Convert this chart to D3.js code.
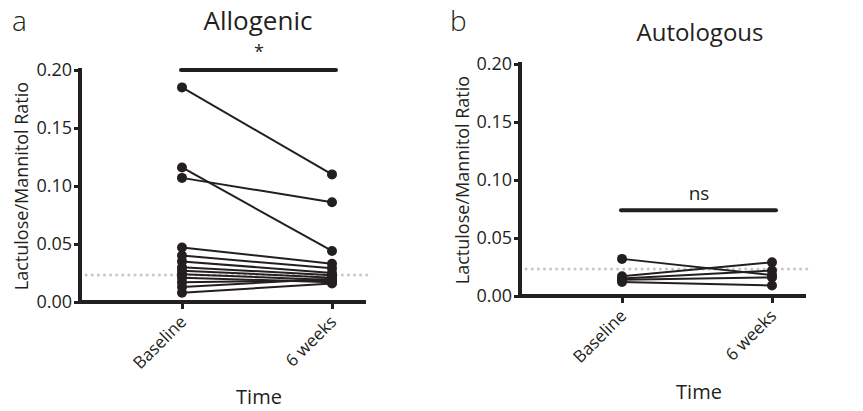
<!DOCTYPE html>
<html>
  <head>
    <meta charset="utf-8">
    <style>
      body { margin: 0; background: #fff; }
      text { font-family: "Open Sans", sans-serif; fill: #231f20; }
    </style>
    <script src="https://cdnjs.cloudflare.com/ajax/libs/d3/7.8.5/d3.min.js"></script>
  </head>
  <body>
    <svg width="863" height="411" id="SVG"></svg>
    <script>
      var timepoints = ["Baseline", "6 weeks"];
      var yTicks = [0.00, 0.05, 0.10, 0.15, 0.20];
      var reference = 0.0233;

      // allogenic, one pair per subject: [baseline, 6 weeks]
      var alloBaseline = [0.185, 0.116, 0.107, 0.047, 0.040, 0.035, 0.030, 0.027, 0.024, 0.021, 0.017, 0.013, 0.008];
      var allo6weeks   = [0.110, 0.044, 0.086, 0.033, 0.029, 0.025, 0.023, 0.021, 0.019, 0.017, 0.019, 0.020, 0.016];

      var autoBaseline = [0.032, 0.017, 0.015, 0.014, 0.012];
      var auto6weeks   = [0.018, 0.029, 0.022, 0.016, 0.009];

      var ink = "#231f20";
      var svg = d3.select("#SVG");

      function panel(opt) {
        var g = svg.append("g");
        var x = d3.scalePoint().domain(timepoints).range([opt.x0, opt.x1]);
        var y = d3.scaleLinear().domain([0, 0.2]).range([opt.yBottom, opt.yTop]);

        // reference dotted line
        g.append("line")
         .attr("x1", opt.left).attr("x2", opt.right + 4)
         .attr("y1", y(reference)).attr("y2", y(reference))
         .attr("stroke", "#c8c8c8").attr("stroke-width", 3)
         .attr("stroke-dasharray", "0.1,6").attr("stroke-linecap", "round");

        // y axis
        var yAxis = g.append("g")
          .attr("transform", "translate(" + opt.left + ",0)")
          .call(d3.axisLeft(y).tickValues(yTicks).tickFormat(d3.format(".2f")).tickSize(6).tickPadding(2));
        yAxis.select(".domain").remove();
        yAxis.selectAll(".tick line").attr("stroke", ink).attr("stroke-width", 3);
        yAxis.selectAll(".tick text").style("font-size", "18px").style("font-family", "'Open Sans', sans-serif").attr("fill", ink);
        g.append("line")
         .attr("x1", opt.left).attr("x2", opt.left)
         .attr("y1", y(0.2) - 2).attr("y2", opt.yBottom + 2)
         .attr("stroke", ink).attr("stroke-width", 4);

        // x axis
        var xAxis = g.append("g")
          .attr("transform", "translate(0," + opt.yBottom + ")")
          .call(d3.axisBottom(x).tickSize(7).tickPadding(4));
        xAxis.select(".domain").remove();
        xAxis.selectAll(".tick line").attr("stroke", ink).attr("stroke-width", 3);
        xAxis.selectAll(".tick text")
             .style("font-size", "17px").style("font-family", "'Open Sans', sans-serif").attr("fill", ink)
             .attr("text-anchor", "end")
             .attr("transform", "translate(-7,9) rotate(-45)")
             .attr("dy", "0.35em");
        g.append("line")
         .attr("x1", opt.left - 2).attr("x2", opt.right)
         .attr("y1", opt.yBottom).attr("y2", opt.yBottom)
         .attr("stroke", ink).attr("stroke-width", 4);

        // subject lines and points
        var pairs = opt.base.map(function(b, i) { return [b, opt.post[i]]; });
        g.selectAll(".pair")
         .data(pairs)
         .enter()
         .append("line")
         .attr("class", "pair")
         .attr("x1", x(timepoints[0])).attr("x2", x(timepoints[1]))
         .attr("y1", function(d) { return y(d[0]); })
         .attr("y2", function(d) { return y(d[1]); })
         .attr("stroke", ink).attr("stroke-width", 2);
        [opt.base, opt.post].forEach(function(vals, k) {
          g.selectAll(".pt" + k)
           .data(vals)
           .enter()
           .append("circle")
           .attr("cx", x(timepoints[k]))
           .attr("cy", function(d) { return y(d); })
           .attr("r", 5)
           .attr("fill", ink);
        });

        // significance bar
        g.append("line")
         .attr("x1", opt.x0 - 1).attr("x2", opt.x1 + 4)
         .attr("y1", y(opt.sigY)).attr("y2", y(opt.sigY))
         .attr("stroke", ink).attr("stroke-width", 4).attr("stroke-linecap", "round");
        g.append("text")
         .attr("x", (opt.x0 + opt.x1) / 2 + 2).attr("y", y(opt.sigY) - opt.sigOffset)
         .attr("text-anchor", "middle").style("font-size", opt.sigSize)
         .text(opt.sig);

        // titles
        g.append("text")
         .attr("x", opt.titleX).attr("y", opt.titleY)
         .attr("text-anchor", "middle").style("font-size", opt.titleSize)
         .text(opt.title);
        g.append("text")
         .attr("x", opt.letterX).attr("y", 31)
         .style("font-size", "28px").style("font-weight", 300)
         .text(opt.letter);
        g.append("text")
         .attr("transform", "translate(" + opt.yLabelX + "," + ((opt.yTop + opt.yBottom) / 2) + ") rotate(-90)")
         .attr("text-anchor", "middle").style("font-size", "18px")
         .text("Lactulose/Mannitol Ratio");
        g.append("text")
         .attr("x", (opt.x0 + opt.x1) / 2 + 2).attr("y", opt.timeY)
         .attr("text-anchor", "middle").style("font-size", "20px")
         .text("Time");
      }

      panel({
        left: 80, right: 366, x0: 182, x1: 332, yTop: 70, yBottom: 302,
        base: alloBaseline, post: allo6weeks,
        sigY: 0.2, sig: "*", sigOffset: 12, sigSize: "18px",
        title: "Allogenic", titleX: 258, titleY: 30, titleSize: "26px",
        letter: "a", letterX: 12, yLabelX: 28, timeY: 404
      });
      panel({
        left: 520, right: 806, x0: 622, x1: 772, yTop: 64, yBottom: 296,
        base: autoBaseline, post: auto6weeks,
        sigY: 0.074, sig: "ns", sigOffset: 10, sigSize: "19px",
        title: "Autologous", titleX: 700, titleY: 41, titleSize: "24px",
        letter: "b", letterX: 450, yLabelX: 469, timeY: 399
      });
    </script>
  </body>
</html>
